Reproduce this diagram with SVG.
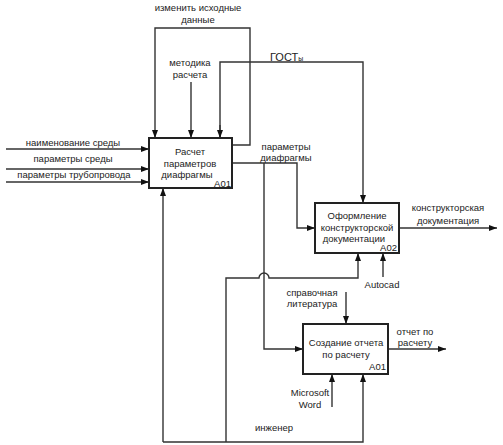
<svg xmlns="http://www.w3.org/2000/svg" width="503" height="445" viewBox="0 0 503 445">
<style>
text{font-family:"Liberation Sans",Arial,sans-serif;font-size:9.5px;fill:#222}
.c{text-anchor:middle}
.e{text-anchor:end}
.box{fill:#fff;stroke:#222;stroke-width:2}
.ln{fill:none;stroke:#333;stroke-width:1.4}
.bt{font-size:9.5px}
</style>
<defs>
<marker id="ar" viewBox="0 0 8 6" refX="8" refY="3" markerWidth="8" markerHeight="6" markerUnits="userSpaceOnUse" orient="auto">
<path d="M0,0 L8,3 L0,6 Z" fill="#111"/>
</marker>
</defs>
<rect width="503" height="445" fill="#fff"/>
<g id="connectors">
<path class="ln" d="M6,149 H149" marker-end="url(#ar)"/>
<path class="ln" d="M6,169 H149" marker-end="url(#ar)"/>
<path class="ln" d="M6,182 H149" marker-end="url(#ar)"/>
<path class="ln" d="M232,145 H250 V28 H155 V138" marker-end="url(#ar)"/>
<path class="ln" d="M191,82 V138" marker-end="url(#ar)"/>
<path class="ln" d="M220,138 V62 H363 V203" marker-end="url(#ar)"/>
<path class="ln" d="M220,125 V138" marker-end="url(#ar)"/>
<path class="ln" d="M232,163 H297 V228 H315" marker-end="url(#ar)"/>
<path class="ln" d="M264,163 V349 H303" marker-end="url(#ar)"/>
<path class="ln" d="M399,228 H497" marker-end="url(#ar)"/>
<path class="ln" d="M226,442 V278 H259 A5,5 0 0 1 269,278 H358 V253" marker-end="url(#ar)"/>
<path class="ln" d="M383,277 V253" marker-end="url(#ar)"/>
<path class="ln" d="M346,292 V324" marker-end="url(#ar)"/>
<path class="ln" d="M388,349 H446" marker-end="url(#ar)"/>
<path class="ln" d="M332,407 V374" marker-end="url(#ar)"/>
<path class="ln" d="M163,442 V188" marker-end="url(#ar)"/>
<path class="ln" d="M163,442 H363 V374" marker-end="url(#ar)"/>
<text x="73" y="146" class="c">наименование среды</text>
<text x="73" y="162" class="c">параметры среды</text>
<text x="74" y="178" class="c">параметры трубопровода</text>
<text x="198" y="11" class="c">изменить исходные</text>
<text x="198" y="23" class="c">данные</text>
<text x="190" y="66" class="c">методика</text>
<text x="190" y="78" class="c">расчета</text>
<text x="270" y="61" style="font-size:11px">ГОСТ<tspan style="font-size:7px">ы</tspan></text>
<text x="286" y="150" class="c">параметры</text>
<text x="286" y="161" class="c">диафрагмы</text>
<text x="448" y="211" class="c">конструкторская</text>
<text x="448" y="224" class="c">документация</text>
<text x="382" y="288" class="c">Autocad</text>
<text x="312" y="296" class="c">справочная</text>
<text x="312" y="307" class="c">литература</text>
<text x="415" y="335" class="c">отчет по</text>
<text x="415" y="346" class="c">расчету</text>
<text x="310" y="396" class="c">Microsoft</text>
<text x="310" y="408" class="c">Word</text>
<text x="274" y="431" class="c">инженер</text>
</g>
<g id="A01">
<rect class="box" x="149" y="138" width="83" height="50"/>
<text x="190" y="155" class="c bt">Расчет</text>
<text x="190" y="167" class="c bt">параметров</text>
<text x="187" y="178" class="c bt">диафрагмы</text>
<text x="231" y="187" class="e bt">A01</text>
</g>
<g id="A02">
<rect class="box" x="315" y="203" width="84" height="50"/>
<text x="357" y="219" class="c bt">Оформление</text>
<text x="357" y="231" class="c bt">конструкторской</text>
<text x="354" y="242" class="c bt">документации</text>
<text x="397" y="251" class="e bt">A02</text>
</g>
<g id="A03">
<rect class="box" x="303" y="324" width="85" height="50"/>
<text x="346" y="346" class="c bt">Создание отчета</text>
<text x="346" y="358" class="c bt">по расчету</text>
<text x="386" y="370" class="e bt">A01</text>
</g>
</svg>
